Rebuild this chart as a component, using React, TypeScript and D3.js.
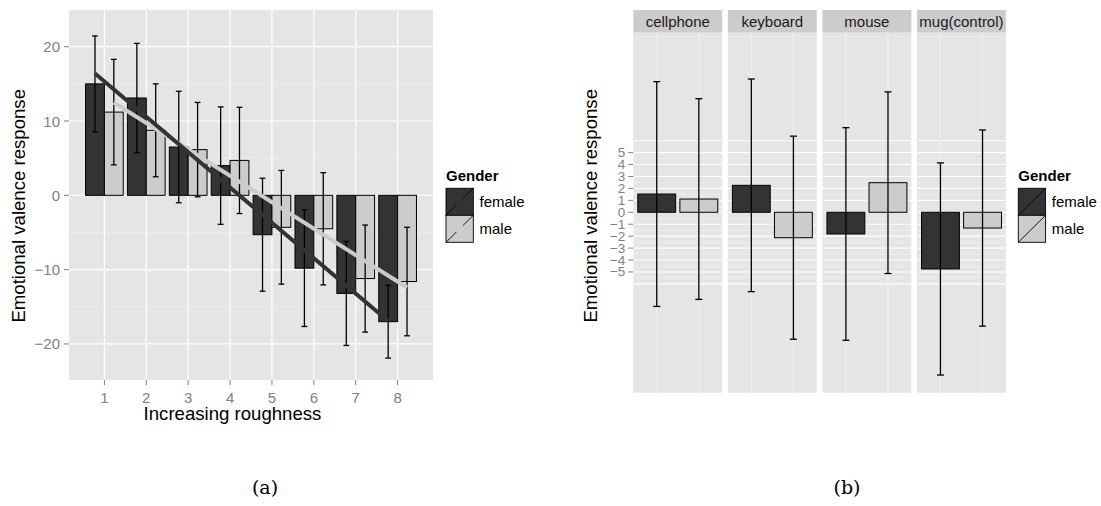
import React from "react";
import * as d3 from "d3";

// ---------- (a) valence by roughness level ----------
const roughness = [1, 2, 3, 4, 5, 6, 7, 8];
const femaleMeans = [15.0, 13.1, 6.5, 4.0, -5.3, -9.8, -13.2, -17.0];
const maleMeans = [11.2, 8.75, 6.15, 4.7, -4.3, -4.5, -11.2, -11.6];
const femaleErr = [6.45, 7.35, 7.5, 7.9, 7.6, 7.85, 7.0, 4.9];
const maleErr = [7.1, 6.25, 6.35, 7.15, 7.65, 7.55, 7.2, 7.3];
// fitted trend, value at first and last level
const femaleTrend = [16.4, -16.9];
const maleTrend = [12.5, -12.4];
const yTicksA = [-20, -10, 0, 10, 20];
const yMinorA = [-15, -5, 5, 15];

// ---------- (b) valence by object ----------
const objects = ["cellphone", "keyboard", "mouse", "mug(control)"];
const femaleMeansB = [1.53, 2.26, -1.82, -4.75];
const maleMeansB = [1.11, -2.13, 2.48, -1.32];
const femaleErrB = [9.42, 8.91, 8.91, 8.89];
const maleErrB = [8.41, 8.51, 7.61, 8.22];
const yTicksB = [-5, -4, -3, -2, -1, 0, 1, 2, 3, 4, 5];
const yGridB = [-6, -5, -4, -3, -2, -1, 0, 1, 2, 3, 4, 5, 6];
const yMinorB = [-5.5, -4.5, -3.5, -2.5, -1.5, -0.5, 0.5, 1.5, 2.5, 3.5, 4.5, 5.5];

const genders = ["female", "male"];
const fills: Record<string, string> = { female: "#333333", male: "#cccccc" };

const SANS = "'Liberation Sans', Arial, Helvetica, sans-serif";
const SERIF = "'DejaVu Serif', 'Liberation Serif', serif";
const TICK = "#7f7f7f";
const PANEL = "#e5e5e5";
const MINOR = "#f2f2f2";

const fmt = (v: number) => (v < 0 ? "\u2212" + Math.abs(v) : String(v));

function LegendKeys({ x, y, withLine }: { x: number; y: number; withLine: boolean }) {
  const w = 27.3;
  const h = 27;
  return (
    <g>
      <text x={x} y={y} fontFamily={SANS} fontWeight="bold" fontSize={15} fill="#000">
        Gender
      </text>
      {genders.map((g, i) => {
        const ky = y + 7.3 + i * h;
        const x0 = x, y0 = ky + h, x1 = x + w, y1 = ky;
        return (
          <g key={g}>
            <rect x={x} y={ky} width={w} height={h} fill={fills[g]} stroke="#000" strokeWidth={0.9} />
            <line x1={x0} y1={y0} x2={x1} y2={y1} stroke="#000" strokeWidth={0.9} />
            {withLine && (
              <line
                x1={x0 + (x1 - x0) * 0.38}
                y1={y0 + (y1 - y0) * 0.38}
                x2={x0 + (x1 - x0) * 0.62}
                y2={y0 + (y1 - y0) * 0.62}
                stroke={fills[g]}
                strokeWidth={3.5}
              />
            )}
            <text x={x + 33.5} y={ky + h / 2} dominantBaseline="central" fontFamily={SANS} fontSize={15} fill="#000">
              {g}
            </text>
          </g>
        );
      })}
    </g>
  );
}

function PanelA() {
  const left = 69, right = 433, top = 10, bottom = 380;
  const x = d3.scaleLinear().domain([0.155, 8.845]).range([left, right]);
  const y = d3.scaleLinear().domain([-24.85, 24.94]).range([bottom, top]);
  const bw = 0.45;
  const cap = 2.9;
  const series = [
    { g: "female", means: femaleMeans, err: femaleErr, off: -bw, trend: femaleTrend },
    { g: "male", means: maleMeans, err: maleErr, off: 0, trend: maleTrend },
  ];
  return (
    <g>
      <rect x={left} y={top} width={right - left} height={bottom - top} fill={PANEL} />
      {yMinorA.map((v) => (
        <line key={"m" + v} x1={left} x2={right} y1={y(v)} y2={y(v)} stroke={MINOR} strokeWidth={0.6} />
      ))}
      {yTicksA.map((v) => (
        <line key={"g" + v} x1={left} x2={right} y1={y(v)} y2={y(v)} stroke="#fff" strokeWidth={1.2} />
      ))}
      {roughness.map((r) => (
        <line key={"v" + r} x1={x(r)} x2={x(r)} y1={top} y2={bottom} stroke="#fff" strokeWidth={1.2} />
      ))}
      {series.map((s) =>
        roughness.map((r, i) => {
          const v = s.means[i];
          return (
            <rect
              key={s.g + r}
              x={x(r + s.off)}
              width={x(r + s.off + bw) - x(r + s.off)}
              y={y(Math.max(0, v))}
              height={Math.abs(y(v) - y(0))}
              fill={fills[s.g]}
              stroke="#000"
              strokeWidth={1}
            />
          );
        })
      )}
      {series.map((s) =>
        roughness.map((r, i) => {
          const cx = x(r + s.off + bw / 2);
          const hi = y(s.means[i] + s.err[i]);
          const lo = y(s.means[i] - s.err[i]);
          return (
            <g key={"e" + s.g + r} stroke="#000" strokeWidth={1.3}>
              <line x1={cx} x2={cx} y1={hi} y2={lo} />
              <line x1={cx - cap} x2={cx + cap} y1={hi} y2={hi} />
              <line x1={cx - cap} x2={cx + cap} y1={lo} y2={lo} />
            </g>
          );
        })
      )}
      {[series[1], series[0]].map((s) => {
        const xs = [roughness[0] + s.off + bw / 2, roughness[roughness.length - 1] + s.off + bw / 2];
        return (
          <line
            key={"t" + s.g}
            x1={x(xs[0])}
            y1={y(s.trend[0])}
            x2={x(xs[1])}
            y2={y(s.trend[1])}
            stroke={fills[s.g]}
            strokeWidth={4}
          />
        );
      })}
      {/* axes */}
      {yTicksA.map((v) => (
        <g key={"yt" + v}>
          <line x1={left - 5} x2={left} y1={y(v)} y2={y(v)} stroke={TICK} strokeWidth={1} />
          <text x={left - 9} y={y(v)} textAnchor="end" dominantBaseline="central" fontFamily={SANS} fontSize={15} fill={TICK}>
            {fmt(v)}
          </text>
        </g>
      ))}
      {roughness.map((r) => (
        <g key={"xt" + r}>
          <line x1={x(r)} x2={x(r)} y1={bottom} y2={bottom + 5} stroke={TICK} strokeWidth={1} />
          <text x={x(r)} y={bottom + 23} textAnchor="middle" fontFamily={SANS} fontSize={15} fill={TICK}>
            {r}
          </text>
        </g>
      ))}
      <text x={232.5} y={420} textAnchor="middle" fontFamily={SANS} fontSize={18.6} fill="#000">
        Increasing roughness
      </text>
      <text
        transform="translate(25,205.8) rotate(-90)"
        textAnchor="middle"
        fontFamily={SANS}
        fontSize={18.6}
        fill="#000"
      >
        Emotional valence response
      </text>
      <LegendKeys x={446} y={181} withLine={true} />
    </g>
  );
}

function PanelB() {
  const top = 32.7, bottom = 392.7, stripTop = 10;
  const facet = d3.scaleBand<string>().domain(objects).range([633.3, 1005.9]).paddingInner(0.06);
  const y = d3.scaleLinear().domain([-15.12, 15.05]).range([bottom, top]);
  const fw = facet.bandwidth();
  const xi = d3.scaleLinear().domain([0.443, 2.555]).range([0, fw]);
  const bw = 0.9;
  const cap = 3.5;
  const left = facet(objects[0]) as number;
  return (
    <g>
      {objects.map((o, k) => {
        const fx = facet(o) as number;
        const vals = [
          { g: "female", m: femaleMeansB[k], e: femaleErrB[k], pos: 1 },
          { g: "male", m: maleMeansB[k], e: maleErrB[k], pos: 2 },
        ];
        return (
          <g key={o} transform={`translate(${fx},0)`}>
            <rect x={0} y={stripTop} width={fw} height={top - stripTop} fill="#cccccc" />
            <text x={fw / 2} y={26.5} textAnchor="middle" fontFamily={SANS} fontSize={15} fill="#1a1a1a">
              {o}
            </text>
            <rect x={0} y={top} width={fw} height={bottom - top} fill={PANEL} />
            {yMinorB.map((v) => (
              <line key={"m" + v} x1={0} x2={fw} y1={y(v)} y2={y(v)} stroke={MINOR} strokeWidth={0.6} />
            ))}
            {yGridB.map((v) => (
              <line key={"g" + v} x1={0} x2={fw} y1={y(v)} y2={y(v)} stroke="#fff" strokeWidth={1.1} />
            ))}
            {[1, 2].map((p) => (
              <line key={"v" + p} x1={xi(p)} x2={xi(p)} y1={top} y2={bottom} stroke="#f4f4f4" strokeWidth={0.8} />
            ))}
            {vals.map((d) => (
              <rect
                key={"b" + d.g}
                x={xi(d.pos - bw / 2)}
                width={xi(d.pos + bw / 2) - xi(d.pos - bw / 2)}
                y={y(Math.max(0, d.m))}
                height={Math.abs(y(d.m) - y(0))}
                fill={fills[d.g]}
                stroke="#000"
                strokeWidth={1}
              />
            ))}
            {vals.map((d) => {
              const cx = xi(d.pos);
              const hi = y(d.m + d.e);
              const lo = y(d.m - d.e);
              return (
                <g key={"e" + d.g} stroke="#000" strokeWidth={1.3}>
                  <line x1={cx} x2={cx} y1={hi} y2={lo} />
                  <line x1={cx - cap} x2={cx + cap} y1={hi} y2={hi} />
                  <line x1={cx - cap} x2={cx + cap} y1={lo} y2={lo} />
                </g>
              );
            })}
          </g>
        );
      })}
      {yTicksB.map((v) => (
        <g key={"yt" + v}>
          <line x1={left - 5} x2={left} y1={y(v)} y2={y(v)} stroke={TICK} strokeWidth={1} />
          <text x={left - 8} y={y(v)} textAnchor="end" dominantBaseline="central" fontFamily={SANS} fontSize={13.5} fill={TICK}>
            {fmt(v)}
          </text>
        </g>
      ))}
      <text
        transform="translate(597,205.8) rotate(-90)"
        textAnchor="middle"
        fontFamily={SANS}
        fontSize={18.6}
        fill="#000"
      >
        Emotional valence response
      </text>
      <LegendKeys x={1018.3} y={181} withLine={false} />
    </g>
  );
}

export default function App() {
  return (
    <svg
      width={1101}
      height={506}
      viewBox="0 0 1101 506"
      style={{ position: "absolute", left: 0, top: 0, background: "#fff" }}
    >
      <rect width={1101} height={506} fill="#fff" />
      <PanelA />
      <PanelB />
      <text x={265} y={494} textAnchor="middle" fontFamily={SERIF} fontSize={19} fill="#000">
        (a)
      </text>
      <text x={847} y={494} textAnchor="middle" fontFamily={SERIF} fontSize={19} fill="#000">
        (b)
      </text>
    </svg>
  );
}
